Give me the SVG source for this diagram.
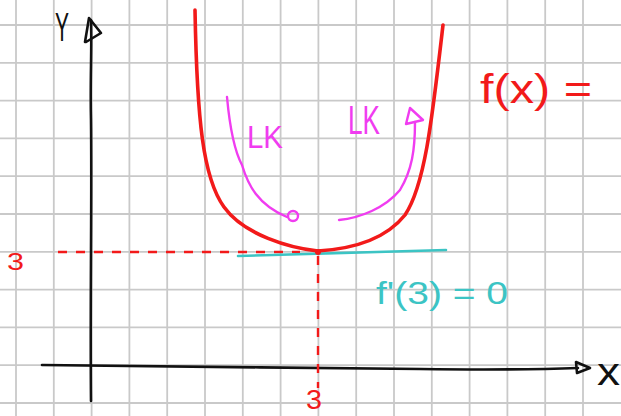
<svg xmlns="http://www.w3.org/2000/svg" width="621" height="416" viewBox="0 0 621 416">
<style>
.grid line{stroke:#c9c9c9;stroke-width:1.8}
.ax{fill:none;stroke:#111;stroke-width:2.6;stroke-linecap:round;stroke-linejoin:round}
.red{fill:none;stroke:#f21a1a;stroke-width:3.6;stroke-linecap:round;stroke-linejoin:round}
.dash{fill:none;stroke:#f21a1a;stroke-width:2.4;stroke-dasharray:9 9}
.mag{fill:none;stroke:#f03cf0;stroke-width:2.4;stroke-linecap:round;stroke-linejoin:round}
.cy{fill:none;stroke:#3cc4c4;stroke-width:2.6;stroke-linecap:round}
text{font-family:"Liberation Sans",Arial,sans-serif}
.tr{fill:#f21a1a}.tm{fill:#f03cf0}.tc{fill:#3cc4c4}.tk{fill:#111}
</style>
<rect width="621" height="416" fill="#fff"/>
<g id="grid" class="grid">
<line x1="16" y1="0" x2="16" y2="416"/><line x1="53.8" y1="0" x2="53.8" y2="416"/><line x1="91.6" y1="0" x2="91.6" y2="416"/><line x1="129.4" y1="0" x2="129.4" y2="416"/><line x1="167.2" y1="0" x2="167.2" y2="416"/><line x1="205" y1="0" x2="205" y2="416"/><line x1="242.8" y1="0" x2="242.8" y2="416"/><line x1="280.6" y1="0" x2="280.6" y2="416"/><line x1="318.4" y1="0" x2="318.4" y2="416"/><line x1="356.2" y1="0" x2="356.2" y2="416"/><line x1="394" y1="0" x2="394" y2="416"/><line x1="431.8" y1="0" x2="431.8" y2="416"/><line x1="469.6" y1="0" x2="469.6" y2="416"/><line x1="507.4" y1="0" x2="507.4" y2="416"/><line x1="545.2" y1="0" x2="545.2" y2="416"/><line x1="583" y1="0" x2="583" y2="416"/>
<line x1="0" y1="25" x2="621" y2="25"/><line x1="0" y1="62.8" x2="621" y2="62.8"/><line x1="0" y1="100.6" x2="621" y2="100.6"/><line x1="0" y1="138.4" x2="621" y2="138.4"/><line x1="0" y1="176.2" x2="621" y2="176.2"/><line x1="0" y1="214" x2="621" y2="214"/><line x1="0" y1="251.8" x2="621" y2="251.8"/><line x1="0" y1="289.6" x2="621" y2="289.6"/><line x1="0" y1="327.4" x2="621" y2="327.4"/><line x1="0" y1="365.2" x2="621" y2="365.2"/><line x1="0" y1="403" x2="621" y2="403"/>
</g>
<g id="y-axis">
<path class="ax" d="M91,401 C90,300 92,200 91,120 C90,80 92,50 91,20"/>
<path class="ax" d="M85,42 L89,18 L101,33 L86,42"/>
<text class="tk" x="55" y="41" font-size="40" textLength="14" lengthAdjust="spacingAndGlyphs">Y</text>
</g>
<g id="x-axis">
<path class="ax" d="M42,365 C150,366 300,368 420,369 C500,370 550,369 578,368"/>
<path class="ax" d="M576,362 L590,368 L577,373 Z"/>
<text class="tk" x="597" y="385" font-size="38" textLength="23" lengthAdjust="spacingAndGlyphs">x</text>
</g>
<g id="guides">
<path class="dash" d="M58,252 L300,252"/>
<path class="dash" d="M318,256 L318,388"/>
<text class="tr" x="7" y="270" font-size="24" textLength="17" lengthAdjust="spacingAndGlyphs">3</text>
<text class="tr" x="306" y="409" font-size="27" textLength="16" lengthAdjust="spacingAndGlyphs">3</text>
</g>
<g id="tangent">
<path class="cy" d="M238,256 L446,250"/>
<text class="tc" x="376" y="304" font-size="32" textLength="132" lengthAdjust="spacingAndGlyphs">f'(3) = 0</text>
</g>
<g id="curve">
<path class="red" d="M195,10 C197,120 203,178 224,207 C244,235 290,248 318,251 C350,249 385,240 405,215 C425,185 432,120 443,25"/>
<circle cx="318" cy="252" r="3" fill="#f21a1a"/>
<text class="tr" x="480" y="103" font-size="40" textLength="112" lengthAdjust="spacingAndGlyphs">f(x) =</text>
</g>
<g id="lk-left">
<path class="mag" d="M227,97 C230,130 234,150 242,165 C248,185 258,205 287,217"/>
<circle class="mag" cx="293" cy="216" r="5" stroke-width="3"/>
<text class="tm" x="247" y="148" font-size="32" textLength="36" lengthAdjust="spacingAndGlyphs">LK</text>
</g>
<g id="lk-right">
<path class="mag" d="M339,220 C360,218 385,208 400,190 C412,170 415,150 415,122"/>
<path class="mag" d="M406,124 L410,108 L423,120 Z"/>
<text class="tm" x="348" y="134" font-size="40" textLength="32" lengthAdjust="spacingAndGlyphs">LK</text>
</g>
</svg>
